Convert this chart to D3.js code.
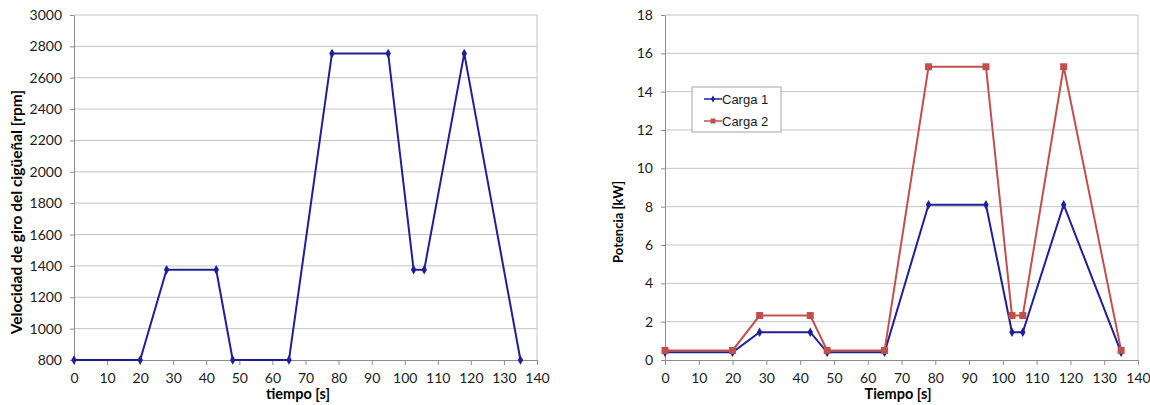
<!DOCTYPE html>
<html>
<head>
<meta charset="utf-8">
<script src="https://cdn.jsdelivr.net/npm/d3@7"></script>
<style>
  body { margin: 0; background: #fff; }
  text { font-family: Lato, "Open Sans", sans-serif; }
</style>
</head>
<body>
<div id="chart"></div>
<script>
// datos
const tiempo = [0, 20, 28, 43, 48, 65, 78, 95, 102.7, 105.9, 118, 135];
const velocidad = [800, 800, 1375, 1375, 800, 800, 2755, 2755, 1375, 1375, 2755, 800];
const carga1 = [0.4, 0.4, 1.45, 1.45, 0.4, 0.4, 8.1, 8.1, 1.45, 1.45, 8.1, 0.4];
const carga2 = [0.5, 0.5, 2.32, 2.32, 0.5, 0.5, 15.3, 15.3, 2.32, 2.32, 15.3, 0.5];
const xTicks = d3.range(0, 141, 10);
const yTicksVel = d3.range(800, 3001, 200);
const yTicksPot = d3.range(0, 19, 2);

const width = 1150, height = 405;
const azul = "#1f1f96", rojo = "#c0504d";

const svg = d3.select("#chart").append("svg")
    .attr("width", width)
    .attr("height", height);

// dibuja un panel con ejes, rejilla y series
function panel(opts) {
  const x = d3.scaleLinear().domain([0, 140]).range([opts.left, opts.right]);
  const y = d3.scaleLinear().domain(opts.yDomain).range([opts.bottom, opts.top]);
  const g = svg.append("g");

  // rejilla horizontal
  g.selectAll(".grid").data(opts.yTicks.slice(1)).enter().append("line")
    .attr("x1", opts.left).attr("x2", opts.right)
    .attr("y1", d => y(d)).attr("y2", d => y(d))
    .attr("stroke", "#c4c4c4").attr("stroke-width", 1);
  // borde derecho
  g.append("line")
    .attr("x1", opts.right).attr("x2", opts.right)
    .attr("y1", opts.top).attr("y2", opts.bottom)
    .attr("stroke", "#c4c4c4");

  // eje y
  const ay = g.append("g").attr("transform", `translate(${opts.left},0)`)
    .call(d3.axisLeft(y).tickValues(opts.yTicks).tickFormat(d3.format("d"))
      .tickSize(4).tickPadding(8).tickSizeOuter(0));
  // eje x
  const ax = g.append("g").attr("transform", `translate(0,${opts.bottom})`)
    .call(d3.axisBottom(x).tickValues(xTicks).tickFormat(d3.format("d"))
      .tickSize(5).tickPadding(8).tickSizeOuter(0));
  [ax, ay].forEach(a => {
    a.select(".domain").attr("stroke", "#8c8c8c");
    a.selectAll(".tick line").attr("stroke", "#8c8c8c");
    a.selectAll(".tick text").attr("fill", "#1a1a1a")
      .style("font-size", "14px").style("font-family", "Lato, sans-serif");
  });

  // series
  opts.series.forEach(s => {
    const pts = tiempo.map((t, i) => [t, s.values[i]]);
    g.append("path").datum(pts)
      .attr("fill", "none").attr("stroke", s.color).attr("stroke-width", 2)
      .attr("d", d3.line().x(d => x(d[0])).y(d => y(d[1])));
    if (s.marker === "diamond") {
      g.selectAll(null).data(pts).enter().append("path")
        .attr("transform", d => `translate(${x(d[0])},${y(d[1])})`)
        .attr("d", d3.symbol(d3.symbolDiamond, 26))
        .attr("fill", s.color);
    } else {
      g.selectAll(null).data(pts).enter().append("rect")
        .attr("x", d => x(d[0]) - 3.5).attr("y", d => y(d[1]) - 3.5)
        .attr("width", 7).attr("height", 7)
        .attr("fill", s.color);
    }
  });

  // títulos de ejes
  g.append("text")
    .attr("x", opts.xTitleX).attr("y", 399)
    .attr("text-anchor", "middle")
    .style("font-size", "14.5px").style("font-weight", "bold")
    .text(opts.xTitle);
  g.append("text")
    .attr("transform", `translate(${opts.yTitleX},${opts.yTitleY}) rotate(-90)`)
    .attr("text-anchor", "middle")
    .style("font-size", opts.yTitleSize).style("font-weight", "bold")
    .text(opts.yTitle);
  return {x, y, g};
}

panel({
  left: 74, right: 537, top: 15, bottom: 360,
  yDomain: [800, 3000], yTicks: yTicksVel,
  xTitle: "tiempo [s]", xTitleX: 298,
  yTitle: "Velocidad de giro del cigüeñal [rpm]", yTitleX: 22, yTitleY: 212, yTitleSize: "15.5px",
  series: [{values: velocidad, color: azul, marker: "diamond"}]
});

panel({
  left: 665, right: 1138, top: 15, bottom: 360,
  yDomain: [0, 18], yTicks: yTicksPot,
  xTitle: "Tiempo [s]", xTitleX: 898,
  yTitle: "Potencia [kW]", yTitleX: 623, yTitleY: 222, yTitleSize: "13px",
  series: [
    {values: carga1, color: azul, marker: "diamond"},
    {values: carga2, color: rojo, marker: "square"}
  ]
});

// leyenda
const leyenda = [{name: "Carga 1", color: azul, marker: "diamond"}, {name: "Carga 2", color: rojo, marker: "square"}];
const lg = svg.append("g").attr("transform", "translate(692,87)");
lg.append("rect").attr("width", 89).attr("height", 45)
  .attr("fill", "#fff").attr("stroke", "#a6a6a6");
leyenda.forEach((d, i) => {
  const yy = 12 + i * 22;
  lg.append("line").attr("x1", 12).attr("x2", 30).attr("y1", yy).attr("y2", yy)
    .attr("stroke", d.color).attr("stroke-width", 1.5);
  if (d.marker === "diamond") {
    lg.append("path").attr("transform", `translate(21,${yy})`)
      .attr("d", d3.symbol(d3.symbolDiamond, 14)).attr("fill", d.color);
  } else {
    lg.append("rect").attr("x", 18.5).attr("y", yy - 2.5).attr("width", 5).attr("height", 5).attr("fill", d.color);
  }
  lg.append("text").attr("x", 30).attr("y", yy + 5)
    .style("font-family", "'Liberation Sans', Arial, sans-serif").style("font-size", "13px")
    .attr("fill", "#1a1a1a")
    .text(d.name);
});
</script>
</body>
</html>
